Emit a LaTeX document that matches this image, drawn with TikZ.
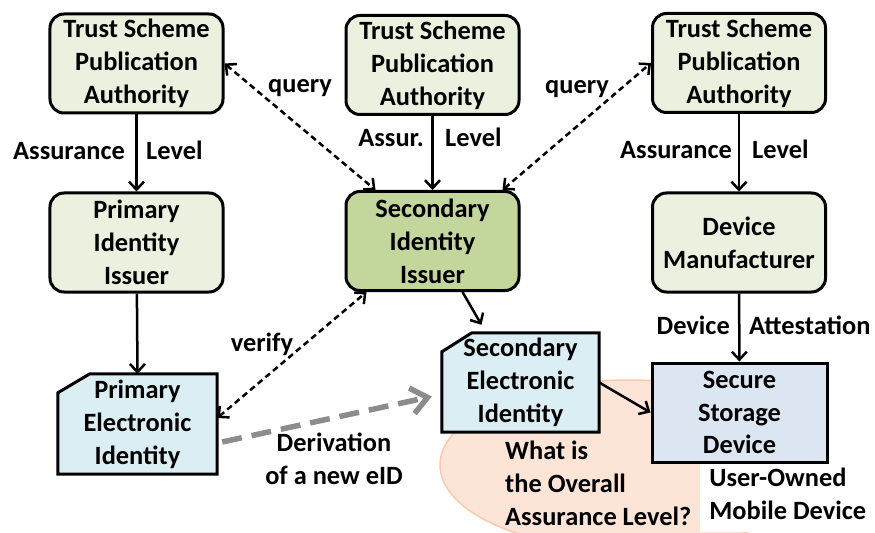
\documentclass[tikz,border=0pt]{standalone}
\usepackage{fontspec}
\setmainfont{Carlito}
\usetikzlibrary{arrows.meta,backgrounds}
\definecolor{grnL}{HTML}{EBF1DE}
\definecolor{grnD}{HTML}{C3D69B}
\definecolor{bluL}{HTML}{DBEEF4}
\definecolor{bluG}{HTML}{DCE6F2}
\definecolor{peach}{HTML}{FCE4D6}
\definecolor{peachB}{HTML}{F8CBAD}
\definecolor{derivgray}{HTML}{8C8C8C}
\begin{document}
\begin{tikzpicture}[x=1bp,y=-1bp,
  font=\fontsize{26.5}{33}\selectfont\bfseries,
  box/.style={draw=black,line width=3bp,rounded corners=14bp,fill=grnL,
    minimum width=173bp,minimum height=99bp,align=center,inner sep=0pt},
  cardtxt/.style={minimum width=159bp,minimum height=100bp,align=center,inner sep=0pt},
  cardshape/.style={draw=black,line width=3bp,fill=bluL},
  lbl/.style={inner sep=0pt},
  arr/.style={line width=2.5bp,-{Straight Barb[length=8bp,width=15bp]}},
  dsh/.style={line width=2.5bp,dash pattern=on 6bp off 4bp,{Straight Barb[length=8bp,width=15bp]}-{Straight Barb[length=8bp,width=15bp]}},
  deriv/.style={line width=5.5bp,draw=derivgray,dash pattern=on 20bp off 10bp,-{Straight Barb[length=16bp,width=26bp]}}
]
\useasboundingbox (0,0) rectangle (875,533);

% ellipse (background)
\begin{scope}[on background layer]
  \draw[fill=peach,draw=peachB,line width=1.5bp] (630,465) ellipse [x radius=190bp, y radius=85bp];
\end{scope}

% white caption box covering the ellipse
\node[fill=white,anchor=north west,minimum width=175bp,minimum height=76bp,
      align=left,inner xsep=8bp,inner ysep=0pt] (uomd) at (700,456) {User-Owned\\Mobile Device};

% top row
\node[box] (tspa1) at (136.5,63.5) {Trust Scheme\\Publication\\Authority};
\node[box] (tspa2) at (432.5,65) {Trust Scheme\\Publication\\Authority};
\node[box] (tspa3) at (739,63) {Trust Scheme\\Publication\\Authority};

% middle row
\node[box] (pii) at (136.5,242.5) {Primary\\Identity\\Issuer};
\node[box,fill=grnD] (sii) at (432.5,241) {Secondary\\Identity\\Issuer};
\node[box] (dm) at (739,242.5) {Device\\Manufacturer};

% bottom row
\node[cardtxt] (pei) at (137.5,424) {Primary\\Electronic\\Identity};
\node[cardtxt,minimum width=157bp,minimum height=99bp] (sei) at (520.5,382.5) {Secondary\\Electronic\\Identity};
\node[draw=black,line width=3bp,fill=bluG,minimum width=175bp,minimum height=99bp,
      align=center,inner sep=0pt] (ssd) at (739.5,412.5) {Secure\\Storage\\Device};

\begin{scope}[on background layer]
  \draw[cardshape] (pei.south west) -- (pei.south east) -- (pei.north east)
     -- ([xshift=32bp]pei.north west) -- ([yshift=-19bp]pei.north west) -- cycle;
  \draw[cardshape] (sei.south west) -- (sei.south east) -- (sei.north east)
     -- ([xshift=30bp]sei.north west) -- ([yshift=-19bp]sei.north west) -- cycle;
\end{scope}

% free texts
\node[anchor=west,align=left,inner sep=0pt] (quest) at (505,483) {What is\\the Overall\\Assurance Level?};
\node[align=center,inner sep=0pt] (derivtxt) at (334,459) {Derivation\\of a new eID};

% solid arrows
\draw[arr] (tspa1) -- (pii);
\draw[arr] (tspa2) -- (sii);
\draw[arr] (tspa3) -- (dm);
\draw[arr] (pii) -- (pei.north);
\draw[arr] (dm) -- (ssd);
\draw[arr] ([xshift=30bp]sii.south) -- ([xshift=-39bp,yshift=8bp]sei.north);
\draw[arr] (sei.east) -- (ssd.west);

% arrow labels
\node[lbl,anchor=base east] (al1) at (125,160) {Assurance};
\node[lbl,anchor=base west] (lv1) at (146,160) {Level};
\node[lbl,anchor=base east] (al2) at (424,147) {Assur.};
\node[lbl,anchor=base west] (lv2) at (445,147) {Level};
\node[lbl,anchor=base east] (al3) at (732,159) {Assurance};
\node[lbl,anchor=base west] (lv3) at (752,159) {Level};
\node[lbl,anchor=base east] (dv) at (730,335) {Device};
\node[lbl,anchor=base west] (at) at (749,335) {Attestation};

% dashed bidirectional
\draw[dsh] (tspa1.east) -- ([xshift=-57bp]sii.north);
\draw[dsh] ([xshift=70bp]sii.north) -- (tspa3.west);
\draw[dsh] ([yshift=6bp]pei.east) -- ([xshift=-66bp]sii.south);
\node[lbl,anchor=base] (q1) at (300,93) {query};
\node[lbl,anchor=base] (q2) at (577,94) {query};
\node[lbl,anchor=base] (vf) at (262,351) {verify};

% derivation
\draw[deriv] ([xshift=5bp,yshift=-18bp]pei.east) -- ([xshift=-10bp,yshift=-14bp]sei.west);
\end{tikzpicture}
\end{document}
